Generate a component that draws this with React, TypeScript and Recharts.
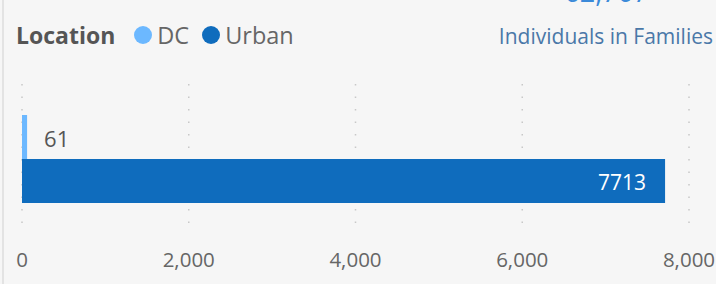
import { BarChart, Bar, XAxis, YAxis, CartesianGrid } from "recharts";

const categories = ["Individuals in Families"];
const dcValues = [61];
const urbanValues = [7713];
const xTicks = [0, 2000, 4000, 6000, 8000];
const seriesNames = ["DC", "Urban"];
const seriesColors = ["#6cb8ff", "#0f6cbd"];

const data = categories.map((name, i) => ({ name, DC: dcValues[i], Urban: urbanValues[i] }));

const FONT = "'Segoe UI', 'Open Sans', sans-serif";

const dcLabel = (p: any) => (
  <text x={p.x + p.width + 17} y={p.y + p.height / 2 + 4} fill="#555" fontSize={22} fontFamily={FONT} dominantBaseline="middle">
    {p.value}
  </text>
);

const urbanLabel = (p: any) => (
  <text x={p.x + p.width - 19} y={p.y + p.height / 2 + 3} fill="#fff" fontSize={21} fontFamily={FONT} textAnchor="end" dominantBaseline="middle">
    {p.value}
  </text>
);

export default function App() {
  return (
    <div style={{ position: "absolute", left: 0, top: 0, width: 716, height: 284, background: "#f6f6f6", overflow: "hidden" }}>
      <div style={{ position: "absolute", left: 2, top: 0, width: 2, height: 284, background: "#e3e3e3" }} />
      <div style={{ position: "absolute", left: 500, width: 213, top: -27, textAlign: "center", fontFamily: FONT, fontSize: 27, color: "#3b8ad9" }}>
        62,707
      </div>
      <div style={{ position: "absolute", left: 480, width: 233, top: 22, textAlign: "right", fontFamily: FONT, fontSize: 21, color: "#4a78a8" }}>
        Individuals in Families
      </div>
      <div style={{ position: "absolute", left: 16, top: 19, display: "flex", alignItems: "center", fontFamily: FONT, fontSize: 23.5, color: "#666" }}>
        <span style={{ fontWeight: 700, color: "#555", fontSize: 23, marginRight: 19 }}>Location</span>
        {seriesNames.map((s, i) => (
          <span key={s} style={{ display: "flex", alignItems: "center", marginRight: 13 }}>
            <span style={{ width: 18, height: 18, borderRadius: "50%", background: seriesColors[i], marginRight: 5 }} />
            {s}
          </span>
        ))}
      </div>
      <BarChart
        width={716}
        height={284}
        data={data}
        layout="vertical"
        margin={{ top: 84, right: 27, bottom: 11, left: 22 }}
        barGap={0}
        style={{ position: "absolute", left: 0, top: 0 }}
      >
        <CartesianGrid horizontal={false} stroke="#c8c8c8" strokeDasharray="1.5 11" strokeWidth={1.5} />
        <XAxis
          type="number"
          domain={[0, 8000]}
          ticks={xTicks}
          tickFormatter={(v: number) => v.toLocaleString("en-US")}
          axisLine={false}
          tickLine={false}
          tickSize={0}
          tickMargin={19}
          height={40}
          interval={0}
          tick={{ fill: "#666", fontSize: 20.5, fontFamily: FONT }}
        />
        <YAxis type="category" dataKey="name" hide />
        <Bar dataKey="DC" fill={seriesColors[0]} barSize={44} isAnimationActive={false} label={dcLabel} />
        <Bar dataKey="Urban" fill={seriesColors[1]} barSize={44} isAnimationActive={false} label={urbanLabel} />
      </BarChart>
    </div>
  );
}
